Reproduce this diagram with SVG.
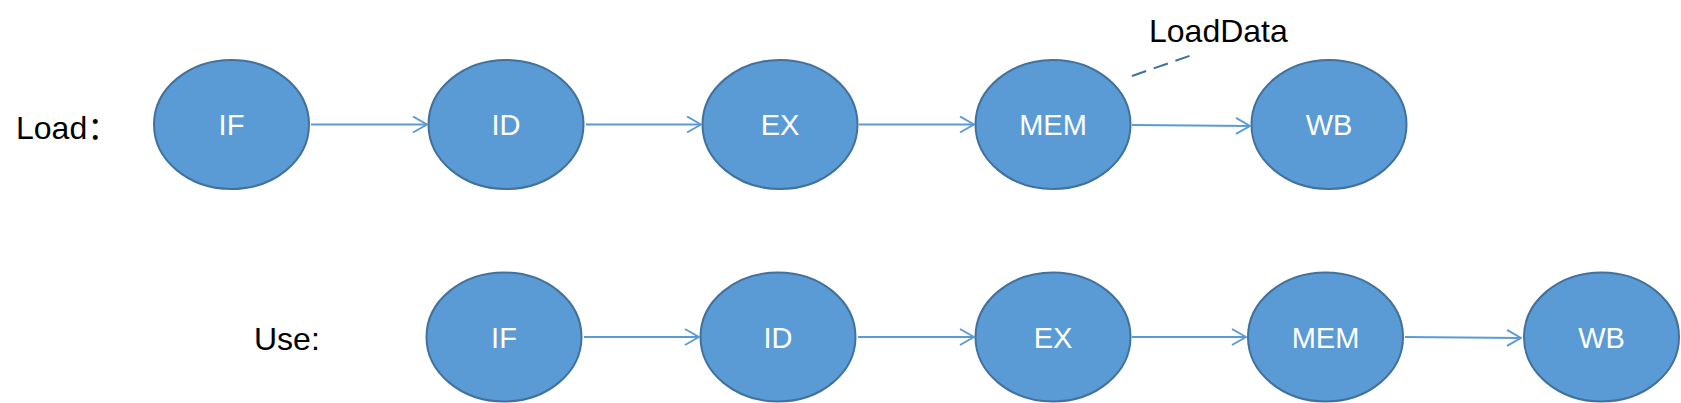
<svg xmlns="http://www.w3.org/2000/svg" width="1681" height="403" viewBox="0 0 1681 403">
<defs>
<marker id="arr" viewBox="0 0 16 18" refX="15" refY="9" markerWidth="16" markerHeight="18" markerUnits="userSpaceOnUse" orient="auto">
<path d="M1,1 L15,9 L1,17" fill="none" stroke="#5B9BD5" stroke-width="2"/>
</marker>
<style>
.n path{fill:#5B9BD5;stroke:#41719C;stroke-width:2}
.n text{fill:#FFFFFF;font-family:"Liberation Sans",Arial,sans-serif;font-size:29px;text-anchor:middle}
.c line{stroke:#5B9BD5;stroke-width:2;marker-end:url(#arr)}
.lbl{fill:#000000;font-family:"Liberation Sans","Noto Sans CJK SC",sans-serif;font-size:32px}
</style>
</defs>
<rect width="1681" height="403" fill="#FFFFFF"/>
<text class="lbl" x="16" y="139">Load：</text>
<text class="lbl" x="254" y="350">Use:</text>
<text class="lbl" x="1149" y="42">LoadData</text>
<line x1="1132" y1="76" x2="1192" y2="55" stroke="#41719C" stroke-width="2" stroke-dasharray="15,8"/>
<g id="load-if" class="n"><path d="M154,124.5 a77.5,64.5 0 1,0 155,0 a77.5,64.5 0 1,0 -155,0 Z"/><text x="231.5" y="135">IF</text></g>
<g id="load-id" class="n"><path d="M428.5,124.5 a77.5,64.5 0 1,0 155,0 a77.5,64.5 0 1,0 -155,0 Z"/><text x="506" y="135">ID</text></g>
<g id="load-ex" class="n"><path d="M702.5,124.5 a77.5,64.5 0 1,0 155,0 a77.5,64.5 0 1,0 -155,0 Z"/><text x="780" y="135">EX</text></g>
<g id="load-mem" class="n"><path d="M975.5,124.5 a77.5,64.5 0 1,0 155,0 a77.5,64.5 0 1,0 -155,0 Z"/><text x="1053" y="135">MEM</text></g>
<g id="load-wb" class="n"><path d="M1251.5,124.5 a77.5,64.5 0 1,0 155,0 a77.5,64.5 0 1,0 -155,0 Z"/><text x="1329" y="135">WB</text></g>
<g id="use-if" class="n"><path d="M426.5,337 a77.5,64.5 0 1,0 155,0 a77.5,64.5 0 1,0 -155,0 Z"/><text x="504" y="347.5">IF</text></g>
<g id="use-id" class="n"><path d="M700.5,337 a77.5,64.5 0 1,0 155,0 a77.5,64.5 0 1,0 -155,0 Z"/><text x="778" y="347.5">ID</text></g>
<g id="use-ex" class="n"><path d="M975.5,337 a77.5,64.5 0 1,0 155,0 a77.5,64.5 0 1,0 -155,0 Z"/><text x="1053" y="347.5">EX</text></g>
<g id="use-mem" class="n"><path d="M1248,337 a77.5,64.5 0 1,0 155,0 a77.5,64.5 0 1,0 -155,0 Z"/><text x="1325.5" y="347.5">MEM</text></g>
<g id="use-wb" class="n"><path d="M1524,337 a77.5,64.5 0 1,0 155,0 a77.5,64.5 0 1,0 -155,0 Z"/><text x="1601.5" y="347.5">WB</text></g>
<g id="connectors" class="c">
<line x1="311" y1="124.5" x2="427" y2="124.5"/>
<line x1="586" y1="124.5" x2="701" y2="124.5"/>
<line x1="859" y1="124.5" x2="974" y2="124.5"/>
<line x1="1132" y1="125" x2="1250" y2="126"/>
<line x1="584" y1="337" x2="699" y2="337"/>
<line x1="858" y1="337" x2="974" y2="337"/>
<line x1="1132" y1="337" x2="1246" y2="337"/>
<line x1="1405" y1="337" x2="1521" y2="338"/>
</g>
</svg>
